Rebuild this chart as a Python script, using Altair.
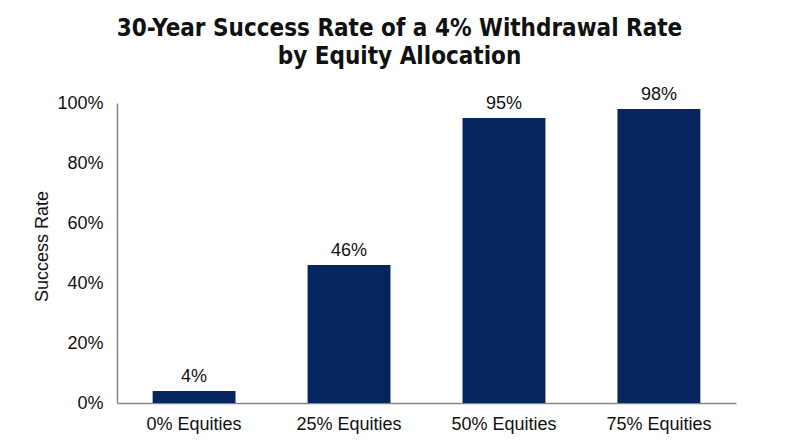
import altair as alt
import pandas as pd

categories = ["0% Equities", "25% Equities", "50% Equities", "75% Equities"]
success_rate = [0.04, 0.46, 0.95, 0.98]
labels = ["4%", "46%", "95%", "98%"]

df = pd.DataFrame({"cat": categories, "rate": success_rate, "label": labels})

FONT = "Liberation Sans"
NAVY = "#06255f"

base = alt.Chart(df).encode(
    x=alt.X(
        "cat:N",
        sort=categories,
        title=None,
        scale=alt.Scale(paddingInner=0.465, paddingOuter=0.23),
        axis=alt.Axis(
            labelAngle=0,
            labelFontSize=18,
            labelFont=FONT,
            labelColor="#111111",
            labelPadding=12,
            ticks=False,
            domainColor="#888888",
            domainWidth=1.5,
        ),
    ),
    y=alt.Y(
        "rate:Q",
        title="Success Rate",
        scale=alt.Scale(domain=[0, 1]),
        axis=alt.Axis(
            format=".0%",
            values=[0, 0.2, 0.4, 0.6, 0.8, 1.0],
            grid=False,
            ticks=False,
            labelFontSize=18,
            labelFont=FONT,
            labelColor="#111111",
            labelPadding=14,
            titleFontSize=18,
            titleFont=FONT,
            titleFontWeight="normal",
            titleColor="#111111",
            titlePadding=5,
            titleY=143,
            domainColor="#888888",
            domainWidth=1.5,
        ),
    ),
)

bars = base.mark_bar(color=NAVY)
text = base.mark_text(dy=-14, fontSize=18, font=FONT, color="#111111").encode(text="label:N")

chart = (
    (bars + text)
    .properties(
        width=619,
        height=300,
        padding={"left": 25, "top": 9, "right": 5, "bottom": 5},
        title=alt.TitleParams(
            text=["30-Year Success Rate of a 4% Withdrawal Rate", "by Equity Allocation"],
            font="DejaVu Sans Condensed, Roboto",
            fontSize=24,
            fontWeight="bold",
            color="#111111",
            anchor="middle",
            lineHeight=28,
            offset=17,
            dx=-27,
        ),
    )
    .configure_view(stroke=None)
)

chart.save("out.html", embed_options={"renderer": "svg", "actions": False})
